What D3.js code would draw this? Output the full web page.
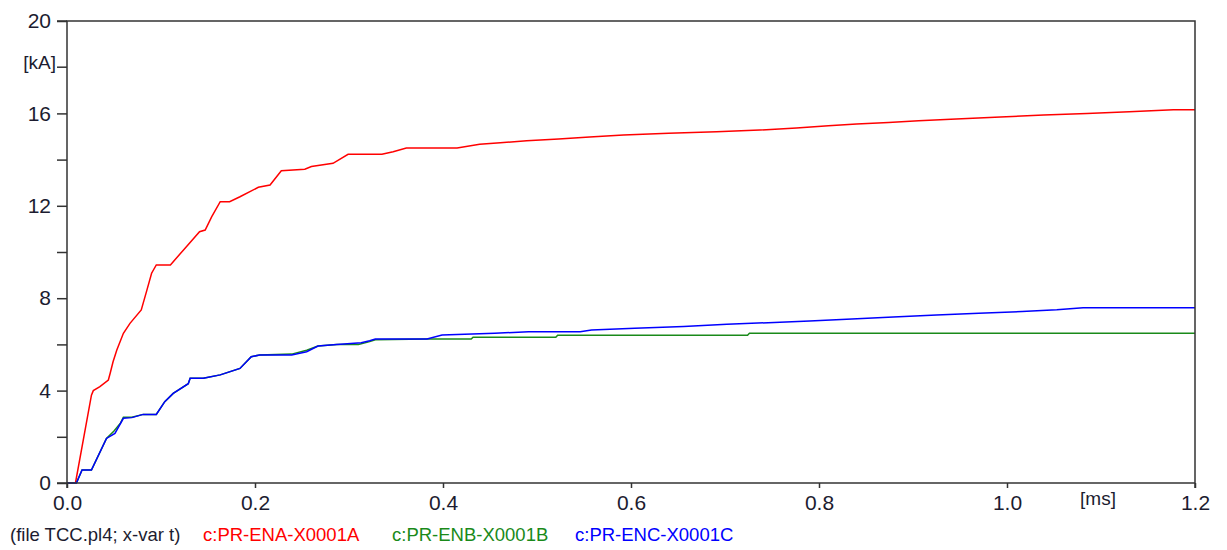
<!DOCTYPE html>
<html>
<head>
<meta charset="utf-8">
<script src="https://cdn.jsdelivr.net/npm/d3@7"></script>
<style>
  body { margin: 0; background: #ffffff; }
  svg text { font-family: "Liberation Sans", Arial, sans-serif; }
</style>
</head>
<body>
<div id="chart"></div>
<script>
// time in ms, current in kA
var timeA = [0, 0.009, 0.026, 0.028, 0.035, 0.044, 0.046, 0.049, 0.053, 0.06, 0.067, 0.079, 0.085, 0.09, 0.095, 0.11, 0.127, 0.141, 0.147, 0.154, 0.163, 0.173, 0.184, 0.2035, 0.216, 0.228, 0.253, 0.26, 0.283, 0.299, 0.335, 0.347, 0.361, 0.415, 0.439, 0.461, 0.489, 0.523, 0.556, 0.592, 0.64, 0.691, 0.737, 0.776, 0.81, 0.84, 0.874, 0.906, 0.946, 0.993, 1.039, 1.085, 1.13, 1.177, 1.2];
var currentA = [0, 0, 3.8, 4.0, 4.17, 4.46, 4.76, 5.25, 5.76, 6.48, 6.91, 7.49, 8.35, 9.08, 9.44, 9.44, 10.23, 10.88, 10.95, 11.53, 12.18, 12.18, 12.39, 12.8, 12.9, 13.52, 13.58, 13.7, 13.84, 14.23, 14.23, 14.34, 14.5, 14.5, 14.66, 14.73, 14.82, 14.89, 14.98, 15.06, 15.14, 15.21, 15.28, 15.37, 15.47, 15.54, 15.61, 15.68, 15.76, 15.84, 15.93, 16.0, 16.07, 16.16, 16.16];

var timeB = [0, 0.01, 0.016, 0.026, 0.042, 0.05, 0.057, 0.06, 0.069, 0.081, 0.095, 0.104, 0.113, 0.129, 0.131, 0.145, 0.163, 0.184, 0.196, 0.205, 0.239, 0.255, 0.267, 0.287, 0.31, 0.322, 0.328, 0.383, 0.43, 0.432, 0.52, 0.522, 0.724, 0.726, 1.2];
var currentB = [0, 0, 0.56, 0.56, 1.93, 2.25, 2.6, 2.85, 2.85, 2.97, 2.97, 3.52, 3.88, 4.3, 4.53, 4.53, 4.68, 4.96, 5.47, 5.54, 5.58, 5.75, 5.93, 6.0, 6.0, 6.12, 6.2, 6.23, 6.23, 6.31, 6.31, 6.4, 6.4, 6.48, 6.48];

var timeC = [0, 0.01, 0.016, 0.026, 0.042, 0.051, 0.06, 0.069, 0.081, 0.095, 0.104, 0.113, 0.129, 0.131, 0.145, 0.163, 0.184, 0.196, 0.205, 0.239, 0.255, 0.267, 0.287, 0.313, 0.322, 0.328, 0.383, 0.399, 0.455, 0.491, 0.546, 0.558, 0.604, 0.656, 0.702, 0.746, 0.79, 0.835, 0.879, 0.925, 0.97, 1.016, 1.053, 1.081, 1.2];
var currentC = [0, 0, 0.56, 0.56, 1.93, 2.15, 2.8, 2.83, 2.97, 2.97, 3.52, 3.88, 4.3, 4.53, 4.53, 4.68, 4.96, 5.47, 5.54, 5.54, 5.68, 5.93, 6.0, 6.07, 6.16, 6.23, 6.23, 6.41, 6.48, 6.55, 6.55, 6.62, 6.7, 6.78, 6.87, 6.94, 7.01, 7.1, 7.19, 7.27, 7.35, 7.42, 7.5, 7.59, 7.59];

var seriesNames = ["c:PR-ENA-X0001A", "c:PR-ENB-X0001B", "c:PR-ENC-X0001C"];
var seriesColors = ["#ff0000", "#1a8a1a", "#0000ff"];
var yTickLabels = [0, 4, 8, 12, 16, 20];
var yMinorTicks = [2, 6, 10, 14];
var xTickLabels = [0, 0.2, 0.4, 0.6, 0.8, 1.0, 1.2];
var fileLabel = "(file TCC.pl4; x-var t)";

var width = 1227, height = 550;
var plotLeft = 67, plotRight = 1195, plotTop = 21, plotBottom = 483;
var axisColor = "#333333";
var labelColor = "#1c1c30";

var svg = d3.select("#chart").append("svg")
  .attr("width", width)
  .attr("height", height);

// 1. scales
var xScale = d3.scaleLinear().domain([0, 1.2]).range([plotLeft, plotRight]);
var yScale = d3.scaleLinear().domain([0, 20]).range([plotBottom, plotTop]);

// 2. curves
var line = d3.line()
  .x(function (d) { return xScale(d[0]); })
  .y(function (d) { return yScale(d[1]); });

var allSeries = [
  d3.zip(timeA, currentA),
  d3.zip(timeB, currentB),
  d3.zip(timeC, currentC)
];

svg.append("g").selectAll("path").data(allSeries)
  .enter().append("path")
  .attr("d", line)
  .attr("fill", "none")
  .attr("stroke", function (d, i) { return seriesColors[i]; })
  .attr("stroke-width", 1.5);

// 3. axes
var yAxis = d3.axisLeft(yScale)
  .tickValues(yTickLabels)
  .tickSize(10)
  .tickPadding(6)
  .tickFormat(d3.format("d"));
var gy = svg.append("g")
  .attr("transform", "translate(" + plotLeft + ",0)")
  .call(yAxis);

var yMinor = d3.axisLeft(yScale)
  .tickValues(yMinorTicks)
  .tickSize(10)
  .tickFormat("");
var gym = svg.append("g")
  .attr("transform", "translate(" + plotLeft + ",0)")
  .call(yMinor);

var xAxis = d3.axisBottom(xScale)
  .tickValues(xTickLabels)
  .tickSize(5)
  .tickPadding(7)
  .tickFormat(d3.format(".1f"));
var gx = svg.append("g")
  .attr("transform", "translate(0," + plotBottom + ")")
  .call(xAxis);

[gy, gym, gx].forEach(function (g) {
  g.select(".domain").remove();
  g.selectAll("line").attr("stroke", axisColor).attr("stroke-width", 1.5);
  g.selectAll("text")
    .attr("fill", labelColor)
    .style("font-size", "21px");
});

// tick at 18 carries the unit instead of a number
svg.append("line")
  .attr("x1", plotLeft - 10).attr("x2", plotLeft)
  .attr("y1", yScale(18)).attr("y2", yScale(18))
  .attr("stroke", axisColor).attr("stroke-width", 1.5);
svg.append("text")
  .attr("x", 56).attr("y", yScale(18) - 3)
  .attr("text-anchor", "end")
  .attr("dominant-baseline", "middle")
  .attr("fill", labelColor)
  .style("font-size", "19px")
  .text("[kA]");

svg.append("text")
  .attr("x", 1098).attr("y", 500)
  .attr("text-anchor", "middle")
  .attr("dominant-baseline", "middle")
  .attr("fill", labelColor)
  .style("font-size", "19px")
  .text("[ms]");

// 4. frame
svg.append("path")
  .attr("d", "M" + plotLeft + "," + (plotBottom + 5) + "V" + plotTop + "H" + plotRight + "V" + (plotBottom + 5))
  .attr("fill", "none")
  .attr("stroke", axisColor)
  .attr("stroke-width", 1.5);
svg.append("line")
  .attr("x1", plotLeft - 10).attr("x2", plotRight)
  .attr("y1", plotBottom).attr("y2", plotBottom)
  .attr("stroke", axisColor).attr("stroke-width", 1.5);
svg.append("line")
  .attr("x1", plotLeft - 10).attr("x2", plotLeft)
  .attr("y1", plotTop).attr("y2", plotTop)
  .attr("stroke", axisColor).attr("stroke-width", 1.5);

// 5. legend line
var legendX = [10, 203, 392, 575];
var legendText = [fileLabel].concat(seriesNames);
var legendColor = [labelColor].concat(seriesColors);
svg.append("g").selectAll("text").data(legendText)
  .enter().append("text")
  .attr("x", function (d, i) { return legendX[i]; })
  .attr("y", 536)
  .attr("dominant-baseline", "middle")
  .attr("fill", function (d, i) { return legendColor[i]; })
  .style("font-size", "18.5px")
  .text(function (d) { return d; });
</script>
</body>
</html>
